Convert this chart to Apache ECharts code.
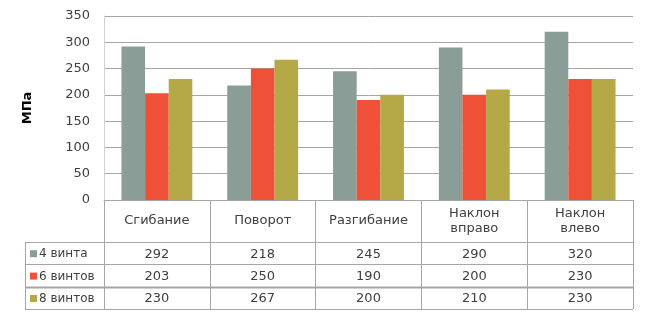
<!DOCTYPE html>
<html>
<head>
<meta charset="utf-8">
<script src="https://cdn.jsdelivr.net/npm/echarts@6/dist/echarts.min.js"></script>
<style>
  html, body { margin: 0; padding: 0; background: #fff; }
  #chart { width: 650px; height: 317px; }
</style>
</head>
<body>
<div id="chart"></div>
<script>
  // данные диаграммы
  const categories = ['Сгибание', 'Поворот', 'Разгибание', 'Наклон\nвправо', 'Наклон\nвлево']
  const seriesNames = ['4 винта', '6 винтов', '8 винтов']
  const vint4 = [292, 218, 245, 290, 320]
  const vint6 = [203, 250, 190, 200, 230]
  const vint8 = [230, 267, 200, 210, 230]
  const colors = ['#8a9e97', '#ee5138', '#b5a846']

  const font = 'DejaVu Sans'
  const textColor = '#404040'
  const lineColor = '#a6a6a6'

  const chart = echarts.init(document.getElementById('chart'))

  const barSeries = [vint4, vint6, vint8].map((data, i) => ({
    name: seriesNames[i],
    type: 'bar',
    data: data,
    barGap: '0%',
    barCategoryGap: '33%',
    itemStyle: { color: colors[i] },
  }))

  chart.setOption({
    animation: false,
    grid: { left: 104, right: 17, top: 16, bottom: 117 },
    xAxis: {
      type: 'category',
      data: categories,
      axisLine: { show: true, lineStyle: { color: lineColor, width: 1 } },
      axisTick: { show: true, length: 109, lineStyle: { color: lineColor } },
      axisLabel: {
        color: textColor,
        fontFamily: font,
        fontSize: 13,
        margin: 21,
        verticalAlign: 'middle',
        lineHeight: 15,
        interval: 0,
      },
    },
    yAxis: {
      type: 'value',
      min: 0,
      max: 350,
      interval: 50,
      name: 'МПа',
      nameLocation: 'middle',
      nameGap: 70,
      nameTextStyle: { color: '#000', fontFamily: font, fontSize: 13, fontWeight: 'bold' },
      axisLine: { show: true, lineStyle: { color: '#d0d0d0' } },
      axisTick: { show: false },
      splitLine: { lineStyle: { color: lineColor } },
      axisLabel: { color: textColor, fontFamily: font, fontSize: 13, margin: 14 },
    },
    series: barSeries,
  })

  // таблица данных под осью
  const rowTop = 242
  const rowH = 22.4
  const tableLeft = 25
  const rect = chart.getModel().getComponent('grid', 0).coordinateSystem.getRect()
  const graphics = []
  const rows = [vint4, vint6, vint8]

  // горизонтальные линии
  for (let r = 0; r <= rows.length; r++) {
    const y = Math.round(rowTop + r * rowH) + 0.5
    graphics.push({
      type: 'line',
      shape: { x1: tableLeft, y1: y, x2: rect.x + rect.width, y2: y },
      style: { stroke: lineColor, lineWidth: r === 2 ? 2 : 1 },
      silent: true,
    })
  }
  // левая граница
  graphics.push({
    type: 'line',
    shape: { x1: tableLeft + 0.5, y1: rowTop, x2: tableLeft + 0.5, y2: Math.round(rowTop + rows.length * rowH) + 1 },
    style: { stroke: lineColor, lineWidth: 1 },
    silent: true,
  })

  rows.forEach((vals, r) => {
    const cy = rowTop + r * rowH + rowH / 2 + 1
    // легенда
    graphics.push({
      type: 'rect',
      shape: { x: 30, y: cy - 4, width: 7, height: 7 },
      style: { fill: colors[r] },
      silent: true,
    })
    graphics.push({
      type: 'text',
      x: 39,
      y: cy,
      style: {
        text: seriesNames[r],
        fill: textColor,
        font: '12px "' + font + '"',
        verticalAlign: 'middle',
        align: 'left',
      },
      silent: true,
    })
    vals.forEach((v, c) => {
      const cx = chart.convertToPixel({ xAxisIndex: 0 }, c)
      graphics.push({
        type: 'text',
        x: cx,
        y: cy,
        style: {
          text: String(v),
          fill: textColor,
          font: '13px "' + font + '"',
          verticalAlign: 'middle',
          align: 'center',
        },
        silent: true,
      })
    })
  })

  chart.setOption({ graphic: graphics })
</script>
</body>
</html>
